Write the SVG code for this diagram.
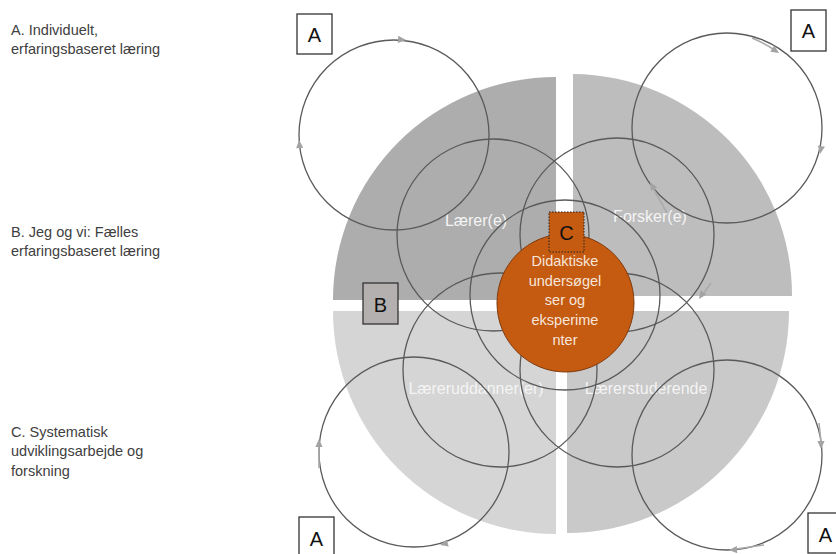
<svg xmlns="http://www.w3.org/2000/svg" width="836" height="554" viewBox="0 0 836 554">
  <style>
    .legend { font-family: "Liberation Sans", Arial, sans-serif; font-size: 14.5px; fill: #404040; }
    .role { font-family: "Liberation Sans", Arial, sans-serif; font-size: 16px; fill: #f4f4f4; text-anchor: middle; }
    .core { font-family: "Liberation Sans", Arial, sans-serif; font-size: 14.5px; fill: #f6e6da; text-anchor: middle; }
    .tag { font-family: "Liberation Sans", Arial, sans-serif; font-size: 20px; fill: #111; text-anchor: middle; }
    .ring { fill: none; stroke: #5a5a5a; stroke-width: 1.3; }
    .trail { fill: none; stroke: #aaaaaa; stroke-width: 1.6; }
    .box { fill: #ffffff; stroke: #333333; stroke-width: 1.3; }
  </style>
  <defs>
    <path id="head" d="M0,0 L-8,-3.6 L-8,3.6 Z" fill="#a3a3a3"/>
  </defs>

  <rect x="0" y="0" width="836" height="554" fill="#ffffff"/>

  <!-- legend -->
  <g id="legend">
    <text class="legend" x="11" y="35">A. Individuelt,</text>
    <text class="legend" x="11" y="54">erfaringsbaseret læring</text>
    <text class="legend" x="11" y="237">B. Jeg og vi: Fælles</text>
    <text class="legend" x="11" y="256">erfaringsbaseret læring</text>
    <text class="legend" x="11" y="437">C. Systematisk</text>
    <text class="legend" x="11" y="456">udviklingsarbejde og</text>
    <text class="legend" x="11" y="476">forskning</text>
  </g>

  <!-- quadrants -->
  <g id="quadrants">
    <path id="q-laerer" d="M556,300 L333,300 A223,223 0 0 1 556,77 Z" fill="#adadad"/>
    <path id="q-forsker" d="M573,296 L573,74 A221,221 0 0 1 792,296 Z" fill="#bdbdbd"/>
    <path id="q-uddanner" d="M556,311 L556,534 A223,223 0 0 1 333,311 Z" fill="#d5d5d5"/>
    <path id="q-studerende" d="M567,311 L789,311 A222,222 0 0 1 567,533 Z" fill="#c9c9c9"/>
  </g>

  <!-- role labels -->
  <g id="roles">
    <text class="role" x="476" y="226">Lærer(e)</text>
    <text class="role" x="650" y="222">Forsker(e)</text>
    <text class="role" x="476" y="394">Læreruddanner(er)</text>
    <text class="role" x="646" y="394">Lærerstuderende</text>
  </g>

  <!-- connectors: cycles and shared circles -->
  <g id="connectors">
    <circle class="ring" cx="394" cy="135" r="95"/>
    <circle class="ring" cx="727" cy="128" r="95"/>
    <circle class="ring" cx="414" cy="452" r="95"/>
    <circle class="ring" cx="727" cy="455" r="95"/>

    <circle class="ring" cx="493" cy="235" r="96"/>
    <circle class="ring" cx="617" cy="235" r="97"/>
    <circle class="ring" cx="500" cy="370" r="97"/>
    <circle class="ring" cx="617" cy="370" r="97"/>
    <circle class="ring" cx="565" cy="295" r="95"/>

    <!-- direction marks -->
    <use href="#head" transform="translate(406,40) rotate(4)"/>
    <use href="#head" transform="translate(299,140) rotate(-95)"/>
    <path class="trail" d="M752,38 Q766,44 776,51"/>
    <use href="#head" transform="translate(779,53) rotate(33)"/>
    <use href="#head" transform="translate(820,154) rotate(100)"/>
    <path class="trail" d="M667,213 L653,188"/>
    <use href="#head" transform="translate(650,182) rotate(-120)"/>
    <path class="trail" d="M711,283 L703,294"/>
    <use href="#head" transform="translate(699,299) rotate(124)"/>
    <path class="trail" d="M319,468 L319,446"/>
    <use href="#head" transform="translate(319,439) rotate(-90)"/>
    <use href="#head" transform="translate(440,545) rotate(165)"/>
    <path class="trail" d="M819,423 L821,442"/>
    <use href="#head" transform="translate(821,449) rotate(90)"/>
    <path class="trail" d="M764,545 L736,549"/>
    <use href="#head" transform="translate(729,550) rotate(178)"/>
  </g>

  <!-- core -->
  <g id="core">
    <ellipse cx="565.5" cy="303" rx="68.5" ry="69" fill="#c55a11" stroke="#7f3a0d" stroke-width="1"/>
    <text class="core" x="565" y="266">Didaktiske</text>
    <text class="core" x="565" y="286">undersøgel</text>
    <text class="core" x="565" y="305">ser og</text>
    <text class="core" x="565" y="325">eksperime</text>
    <text class="core" x="565" y="345">nter</text>
  </g>

  <!-- level tags -->
  <g id="tag-a1">
    <rect class="box" x="297" y="14" width="35" height="40"/>
    <text class="tag" x="314.5" y="42">A</text>
  </g>
  <g id="tag-a2">
    <rect class="box" x="791" y="10" width="35" height="41"/>
    <text class="tag" x="808.5" y="38">A</text>
  </g>
  <g id="tag-a3">
    <rect class="box" x="299" y="517" width="35" height="40"/>
    <text class="tag" x="316.5" y="546">A</text>
  </g>
  <g id="tag-a4">
    <rect class="box" x="808" y="513" width="35" height="40"/>
    <text class="tag" x="825.5" y="542">A</text>
  </g>
  <g id="tag-b">
    <rect x="363" y="283" width="35" height="41" fill="#b4b0b0" stroke="#333333" stroke-width="1.3"/>
    <text class="tag" x="380.5" y="312">B</text>
  </g>
  <g id="tag-c">
    <rect x="549" y="212" width="35" height="40" fill="#c55a11" stroke="#222222" stroke-width="1" stroke-dasharray="1.5 1.5"/>
    <text class="tag" x="566.5" y="240">C</text>
  </g>
</svg>
